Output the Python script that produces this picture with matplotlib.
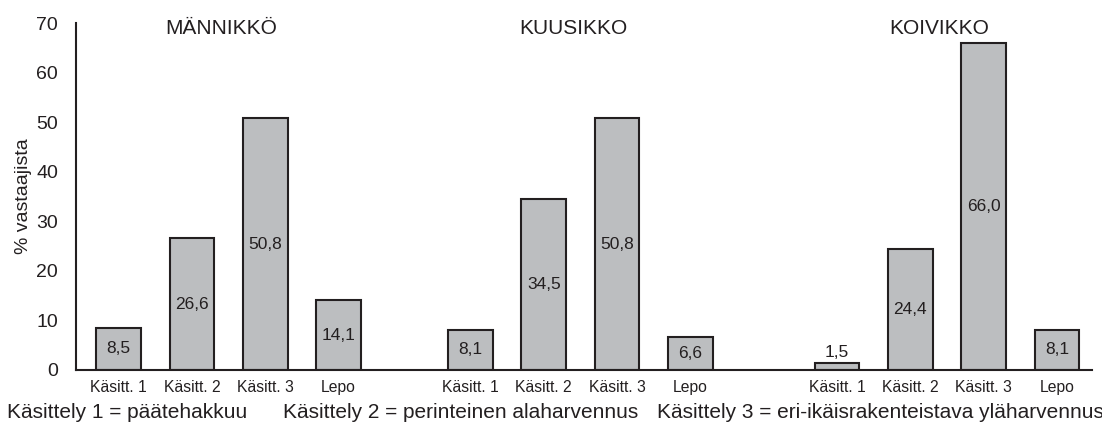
import matplotlib.pyplot as plt
import numpy as np

plt.rcParams['font.family'] = ['Liberation Sans', 'DejaVu Sans']

# data
groups = ['MÄNNIKKÖ', 'KUUSIKKO', 'KOIVIKKO']
categories = ['Käsitt. 1', 'Käsitt. 2', 'Käsitt. 3', 'Lepo']
mannikko = [8.5, 26.6, 50.8, 14.1]
kuusikko = [8.1, 34.5, 50.8, 6.6]
koivikko = [1.5, 24.4, 66.0, 8.1]
values = [mannikko, kuusikko, koivikko]
footer = ['Käsittely 1 = päätehakkuu',
          'Käsittely 2 = perinteinen alaharvennus',
          'Käsittely 3 = eri-ikäisrakenteistava yläharvennus']

txt = '#231f20'
offsets = [0, 4.8, 9.8]

fig = plt.figure(figsize=(11.02, 4.36), dpi=100)
ax = fig.add_axes([0.069, 0.1514, 0.922, 0.7956])

xticks = []
xlabels = []
for g, off in enumerate(offsets):
    x = np.arange(4) + off
    rects = ax.bar(x, values[g], width=0.61, color='#bcbec0',
                   edgecolor=txt, linewidth=1.5)
    for i in range(4):
        v = values[g][i]
        s = f"{v:.1f}".replace('.', ',')
        if v < 4:
            ax.text(x[i], v + 0.6, s, ha='center', va='bottom',
                    fontsize=12.5, color=txt)
        else:
            ax.text(x[i], v / 2, s, ha='center', va='center',
                    fontsize=12.5, color=txt)
    ax.text(x.mean() - 0.1, 69, groups[g], ha='center', va='center',
            fontsize=15, color=txt)
    xticks += list(x)
    xlabels += categories

ax.set_xlim(-0.58, 13.28)
ax.set_ylim(0, 70)
ax.set_yticks(range(0, 71, 10))
ax.set_xticks(xticks)
ax.set_xticklabels(xlabels, fontsize=11.3, color=txt)
ax.tick_params(axis='y', length=0, pad=13, labelsize=14, labelcolor=txt)
ax.tick_params(axis='x', length=0, pad=7)
ax.set_ylabel('% vastaajista', fontsize=14, color=txt, labelpad=3)

for sp in ['top', 'right']:
    ax.spines[sp].set_visible(False)
for sp in ['left', 'bottom']:
    ax.spines[sp].set_color(txt)
    ax.spines[sp].set_linewidth(1.5)

for xf, s in zip([0.0064, 0.257, 0.596], footer):
    fig.text(xf, 0.055, s, ha='left', va='center', fontsize=15, color=txt)

fig.savefig('out.png', dpi=100)
